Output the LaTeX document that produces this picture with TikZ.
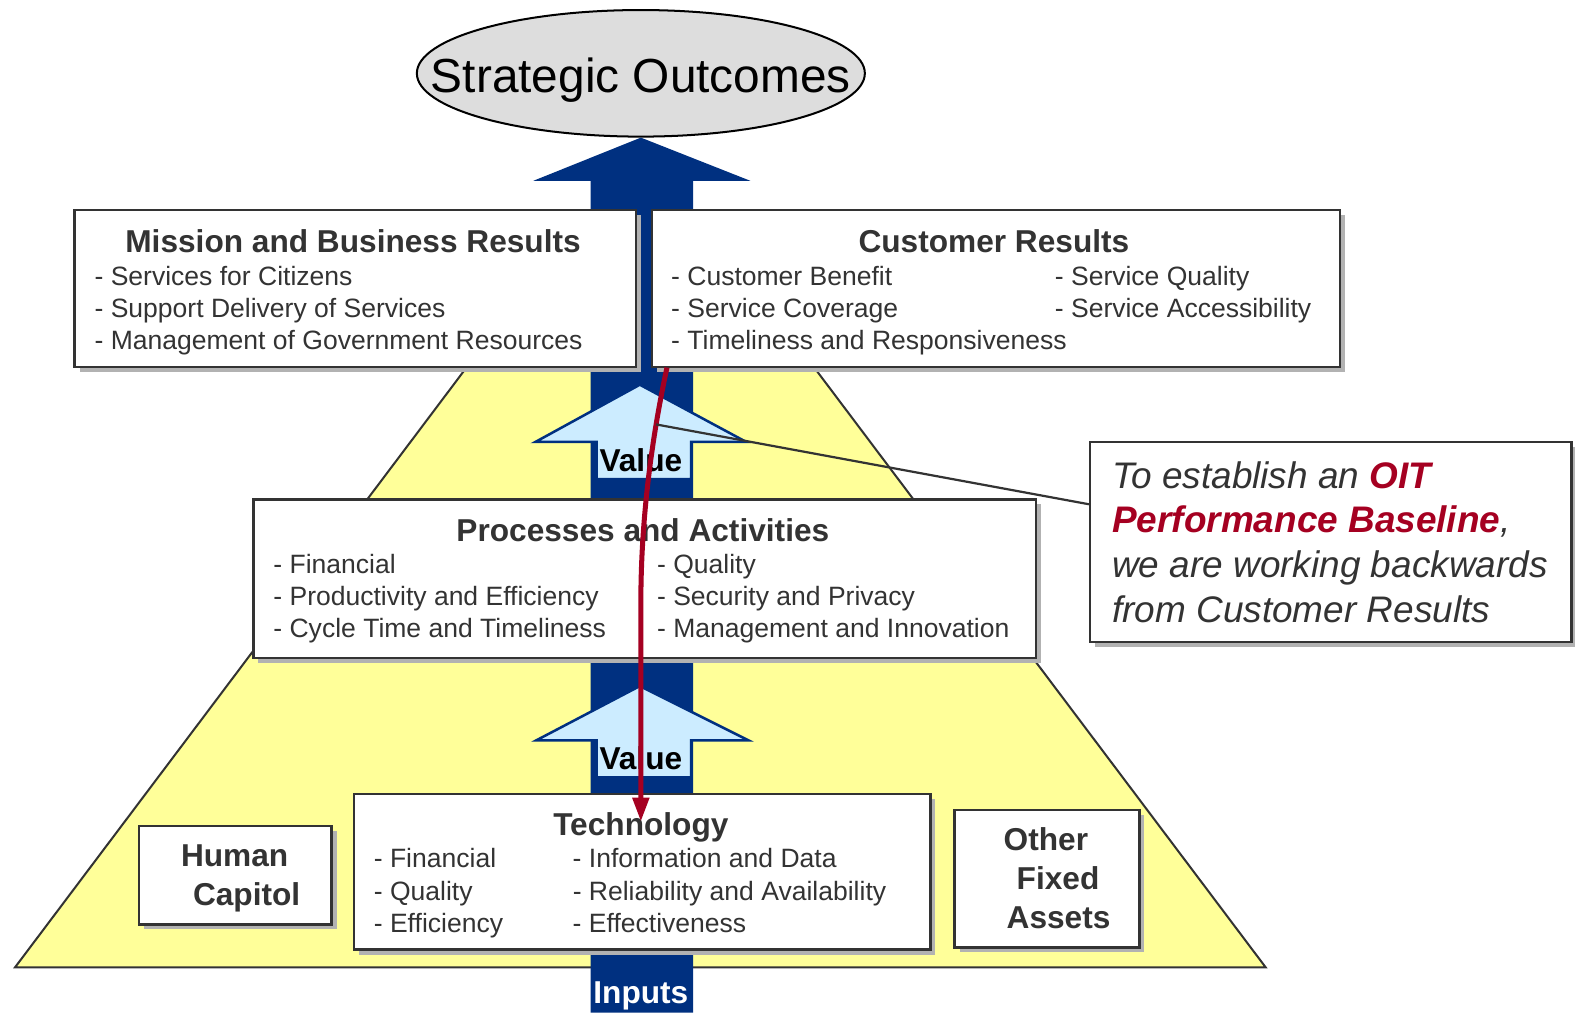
\documentclass[tikz,border=0pt]{standalone}
\usepackage{fontspec}
\setmainfont{Liberation Sans}
\usetikzlibrary{shapes.geometric,shadows,arrows.meta}
\definecolor{navy}{RGB}{0,48,128}
\definecolor{trapyellow}{RGB}{255,255,153}
\definecolor{valueblue}{RGB}{204,236,255}
\definecolor{oitred}{RGB}{165,0,33}
\definecolor{ellgray}{RGB}{221,221,221}
\definecolor{txtgray}{RGB}{51,51,51}
\definecolor{shadowgray}{RGB}{178,178,178}
\newcommand{\colA}[1]{\makebox[382pt][l]{#1}}
\newcommand{\colB}[1]{\makebox[198pt][l]{#1}}
\begin{document}
\begin{tikzpicture}[x=1pt,y=-1pt,
  box/.style={draw=txtgray, line width=2.5pt, fill=white, rectangle, inner sep=0pt, anchor=north west,
    general shadow={fill=shadowgray, shadow xshift=5pt, shadow yshift=-5pt}},
  titletext/.style={anchor=base, inner sep=0pt, text=txtgray, font=\fontsize{31.5}{38}\selectfont\bfseries},
  bodytext/.style={anchor=base west, inner sep=0pt, text=txtgray, font=\fontsize{26.4}{32}\selectfont},
  bigbold/.style={anchor=base west, inner sep=0pt, text=txtgray, font=\fontsize{31.5}{38.5}\selectfont\bfseries},
  valuearrow/.style={fill=valueblue, draw=navy, line width=2.5pt, line join=miter},
  valuetext/.style={anchor=base, inner sep=0pt, text=black, font=\fontsize{31.5}{38}\selectfont\bfseries}]
\useasboundingbox (0,0) rectangle (1568,1008);
% pyramid
\filldraw[fill=trapyellow, draw=txtgray, line width=2pt, line join=miter] (514,300) -- (761,300) -- (1260,963) -- (15,963) -- cycle;
% blue column with arrow
\node[ellipse, draw=black, line width=2pt, fill=ellgray, minimum width=446pt, minimum height=126pt, inner sep=0pt] (so) at (638,73) {};
\fill[navy] (588,1008) -- (588,180) -- (531,180) -- (so.south) -- (747,180) -- (690,180) -- (690,1008) -- cycle;
\node[anchor=base, inner sep=0pt, font=\fontsize{47.6}{56}\selectfont] (sotext) at (638,92) {Strategic Outcomes};
% top boxes
\node[box, minimum width=559pt, minimum height=156pt] (mb) at (73,208) {};
\node[titletext] (mbt) at (351.5,251) {Mission and Business Results};
\node[bodytext] (mbl) at (94,284) {\begin{tabular}[t]{@{}l@{}}- Services for Citizens\\- Support Delivery of Services\\- Management of Government Resources\end{tabular}};
\node[box, minimum width=685pt, minimum height=156pt] (cr) at (648,208) {};
\node[titletext] (crt) at (989.5,251) {Customer Results};
\node[bodytext] (crl) at (668,284) {\begin{tabular}[t]{@{}l@{}l@{}}\colA{- Customer Benefit} & - Service Quality\\\colA{- Service Coverage} & - Service Accessibility\\\colA{- Timeliness and Responsiveness} & \end{tabular}};
% processes
\node[box, minimum width=779pt, minimum height=158pt] (pa) at (251,496) {};
\node[titletext] (pat) at (640,539) {Processes and Activities};
\node[bodytext] (pal) at (272,571) {\begin{tabular}[t]{@{}l@{}l@{}}\colA{- Financial} & - Quality\\\colA{- Productivity and Efficiency} & - Security and Privacy\\\colA{- Cycle Time and Timeliness} & - Management and Innovation\end{tabular}};
% bottom row
\node[box, minimum width=574pt, minimum height=155pt] (te) at (351,789) {};
\node[titletext] (tet) at (638,832) {Technology};
\node[bodytext] (tel) at (372,864) {\begin{tabular}[t]{@{}l@{}l@{}}\colB{- Financial} & - Information and Data\\\colB{- Quality} & - Reliability and Availability\\\colB{- Efficiency} & - Effectiveness\end{tabular}};
\node[box, minimum width=192pt, minimum height=98pt] (hc) at (137,821) {};
\node[bigbold] (hct) at (180,863) {\begin{tabular}[t]{@{}l@{}}Human\\\hspace{12pt}Capitol\end{tabular}};
\node[box, minimum width=184pt, minimum height=137pt] (ofa) at (949,805) {};
\node[bigbold] (ofat) at (999,847) {\begin{tabular}[t]{@{}l@{}}Other\\\hspace{13pt}Fixed\\\hspace{3pt}Assets\end{tabular}};
% value arrows
\filldraw[valuearrow] (594,477) -- (594,440) -- (533,440) -- (637,383) -- (743,440) -- (688,440) -- (688,477) -- cycle;
\node[valuetext] (v1) at (638,469) {Value};
\filldraw[valuearrow] (594,774) -- (594,737) -- (534,737) -- (637,683) -- (745,737) -- (688,737) -- (688,774) -- cycle;
\node[valuetext] (v2) at (638,766) {Value};
\node[anchor=base, inner sep=0pt, text=white, font=\fontsize{31.5}{38}\selectfont\bfseries] (inp) at (638,999) {Inputs};
% red arrow
\coordinate (rs) at (664,366);
\coordinate (re) at (638,818);
\draw[oitred, line width=5pt, -{Triangle[length=24pt,width=16pt]}] (rs) .. controls (648,440) and (638,520) .. (638,600) node[coordinate, pos=0.25] (cj) {} -- (re);
% callout
\coordinate (cend) at (1084,502);
\draw[txtgray, line width=2.2pt] (cj) -- (cend);
\node[box, minimum width=479pt, minimum height=199pt] (co) at (1084,439) {};
\node[anchor=base west, inner sep=0pt, text=txtgray, font=\fontsize{36.8}{44.5}\selectfont\itshape] (cot) at (1107,486) {\begin{tabular}[t]{@{}l@{}}To establish an \textcolor{oitred}{\bfseries OIT}\\\textcolor{oitred}{\bfseries Performance Baseline},\\we are working backwards\\from Customer Results\end{tabular}};
\end{tikzpicture}
\end{document}
